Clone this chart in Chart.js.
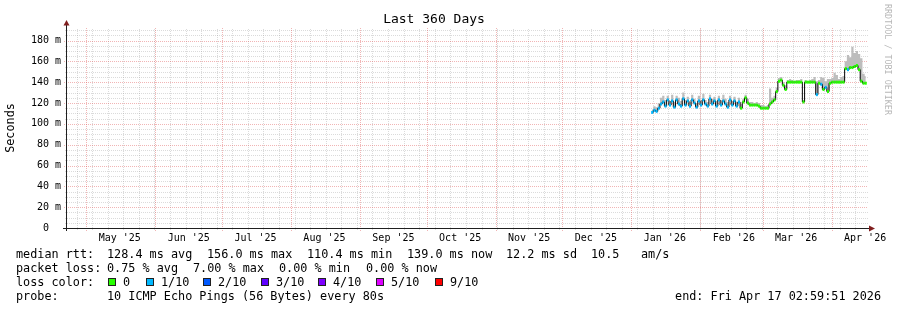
<!DOCTYPE html>
<html>
<head>
<meta charset="utf-8">
<title>Last 360 Days</title>
<script src="https://cdn.jsdelivr.net/npm/chart.js@4.4.1/dist/chart.umd.min.js"></script>
<style>
  html, body { margin: 0; padding: 0; background: #fff; }
  #wrap { position: relative; width: 897px; height: 310px; overflow: hidden;
          font-family: "DejaVu Sans Mono", monospace; color: #000; }
  #chart { position: absolute; left: 0; top: 0; }
  .t { position: absolute; font-size: 11.8px; line-height: 14px; white-space: pre; }
  .box { position: absolute; top: 278px; width: 6px; height: 6px; border: 1px solid #202020; }
  #mark { position: absolute; left: 883px; top: 4px; writing-mode: vertical-rl;
          font-size: 8.4px; line-height: 9px; color: rgba(0,0,0,0.3); white-space: pre; }
</style>
</head>
<body>
<div id="wrap">
  <canvas id="chart" width="897" height="310"></canvas>

  <span class="t" style="left:16px;top:247px">median rtt:</span>
  <span class="t" style="left:107px;top:247px">128.4 ms avg</span>
  <span class="t" style="left:207px;top:247px">156.0 ms max</span>
  <span class="t" style="left:307px;top:247px">110.4 ms min</span>
  <span class="t" style="left:407px;top:247px">139.0 ms now</span>
  <span class="t" style="left:506px;top:247px">12.2 ms sd</span>
  <span class="t" style="left:591px;top:247px">10.5</span>
  <span class="t" style="left:641px;top:247px">am/s</span>

  <span class="t" style="left:16px;top:261px">packet loss:</span>
  <span class="t" style="left:107px;top:261px">0.75 % avg</span>
  <span class="t" style="left:193px;top:261px">7.00 % max</span>
  <span class="t" style="left:279px;top:261px">0.00 % min</span>
  <span class="t" style="left:366px;top:261px">0.00 % now</span>

  <span class="t" style="left:16px;top:275px">loss color:</span>
  <div id="losslegend"></div>

  <span class="t" style="left:16px;top:289px">probe:</span>
  <span class="t" style="left:107px;top:289px">10 ICMP Echo Pings (56 Bytes) every 80s</span>
  <span class="t" style="right:16px;top:289px">end: Fri Apr 17 02:59:51 2026</span>

  <div id="mark">RRDTOOL / TOBI OETIKER</div>
</div>
<script>
const MONO = '"DejaVu Sans Mono", monospace';

// x axis is "days since the start of the 360 day window" (Apr 22 '25)
const FIRST_DAY = 263;

const MEDIAN = [
  111, 113, 112, 115, 119, 121,
  117, 123, 118, 122, 116, 123, 119, 117, 124, 118, 122, 117, 123, 120, 116, 122, 118,
  123, 119, 117, 124, 119, 122, 117, 123, 118, 122, 119, 116, 123, 118, 122, 117, 121,
  115, 121, 125, 120, 118, 118, 118, 118, 117, 115, 115, 115, 115,
  119, 121, 123, 131, 141, 142, 137, 133,
  140, 140, 140, 140, 140, 140, 140, 121, 140, 140, 140, 140, 140,
  128, 139, 138, 133, 135, 131, 139,
  140, 140, 140, 140, 140, 140,
  153, 152, 154, 154, 155, 156, 152, 141, 139, 139
];

// loss per sample, out of 10 pings
const LOSS = [
  1, 1, 1, 1, 1, 1,
  1, 1, 1, 1, 1, 1, 1, 1, 1, 1, 1, 1, 1, 1, 1, 1, 1,
  1, 1, 1, 1, 1, 1, 1, 1, 1, 1, 1, 1, 1, 1, 1, 1, 1,
  0, 0, 0, 0, 0, 0, 0, 0, 0, 0, 0, 0, 0,
  0, 0, 0, 0, 0, 0, 0, 0,
  0, 0, 0, 0, 0, 0, 0, 0, 0, 0, 0, 0, 0,
  1, 0, 1, 0, 1, 0, 0,
  0, 0, 0, 0, 0, 0,
  0, 1, 0, 0, 0, 0, 0, 0, 0, 0
];

// top of the smoke (slowest pings)
const SMOKE_HI = [
  114, 117, 116, 120, 125, 127,
  123, 127, 122, 128, 121, 127, 125, 122, 130, 123, 126, 121, 128, 124, 120, 127, 123,
  129, 123, 121, 128, 124, 126, 122, 127, 123, 128, 124, 121, 127, 122, 126, 121, 125,
  119, 124, 128, 124, 121, 121, 120, 121, 120, 118, 118, 117, 118,
  134, 125, 127, 135, 144, 145, 140, 137,
  142, 143, 142, 141, 142, 142, 143, 123, 142, 141, 142, 143, 145,
  141, 142, 145, 144, 141, 143, 143,
  144, 149, 147, 143, 145, 146,
  160, 166, 164, 174, 168, 170, 167, 163, 148, 146
];

const MONTHS = [[2025, 4], [2025, 5], [2025, 6], [2025, 7], [2025, 8], [2025, 9], [2025, 10],
                [2025, 11], [2026, 0], [2026, 1], [2026, 2], [2026, 3]];
const MONTH_LABELS = ["May '25", "Jun '25", "Jul '25", "Aug '25", "Sep '25", "Oct '25",
                      "Nov '25", "Dec '25", "Jan '26", "Feb '26", "Mar '26", "Apr '26"];
const Y_TICKS = [0, 20, 40, 60, 80, 100, 120, 140, 160, 180];

const LOSS_COLOR = { 0: '#26ff00', 1: '#00b8ff', 2: '#0059ff', 3: '#5e00ff', 4: '#7e00ff', 5: '#dd00ff', 9: '#ff0000' };
const LEGEND_LEVELS = [0, 1, 2, 3, 4, 5, 9];
const LEGEND_TEXT = ['0', '1/10', '2/10', '3/10', '4/10', '5/10', '9/10'];
const LEGEND_X = [108, 146, 203, 261, 318, 376, 435];

const START = Date.UTC(2025, 3, 22);
const monthDays = MONTHS.map(([y, m]) => (Date.UTC(y, m, 1) - START) / 864e5 - 0.4);
const labelDays = monthDays.map(d => d + 15.1);
const WEEK0 = 4.3;

// loss colour legend
const ll = document.getElementById('losslegend');
ll.innerHTML = LEGEND_LEVELS.map((k, i) =>
  `<div class="box" style="left:${LEGEND_X[i]}px;background:${LOSS_COLOR[k]}"></div>` +
  `<span class="t" style="left:${LEGEND_X[i] + 15}px;top:275px">${LEGEND_TEXT[i]}</span>`).join('');

const days = MEDIAN.map((_, i) => FIRST_DAY + i);

// rrdtool style dotted grid + axes with arrows
const rrdGrid = {
  id: 'rrdGrid',
  beforeDatasetsDraw(chart) {
    const { ctx, chartArea: a, scales: { x, y } } = chart;
    ctx.save();
    ctx.lineWidth = 1;
    ctx.setLineDash([1, 1]);
    const hline = (v, col, ext) => {
      const py = Math.round(y.getPixelForValue(v)) + 0.5;
      ctx.strokeStyle = col;
      ctx.beginPath(); ctx.moveTo(a.left - ext, py); ctx.lineTo(a.right, py); ctx.stroke();
    };
    const vline = (v, col, ext) => {
      const px = Math.round(x.getPixelForValue(v)) + 0.5;
      ctx.strokeStyle = col;
      ctx.beginPath(); ctx.moveTo(px, a.bottom + ext); ctx.lineTo(px, a.top); ctx.stroke();
    };
    const minor = 'rgba(143,143,143,0.32)', major = 'rgba(222,79,79,0.42)';
    for (let v = 5; v < 192; v += 5) if (v % 20) hline(v, minor, 2);
    for (let d = WEEK0; d < 360; d += 7) vline(d, minor, 2);
    Y_TICKS.forEach(v => { if (v) hline(v, major, 3); });
    monthDays.forEach(d => vline(d, major, 3));
    ctx.restore();
  },
  afterDatasetsDraw(chart) {
    const { ctx, chartArea: a } = chart;
    ctx.save();
    ctx.setLineDash([]);
    ctx.lineWidth = 1;
    ctx.strokeStyle = '#1f1f1f';
    ctx.beginPath();
    ctx.moveTo(a.left - 4, a.bottom + 0.5); ctx.lineTo(a.right + 2, a.bottom + 0.5);
    ctx.moveTo(a.left - 0.5, a.bottom + 3); ctx.lineTo(a.left - 0.5, a.top - 4);
    ctx.stroke();
    ctx.fillStyle = '#801f1f';
    ctx.beginPath();
    ctx.moveTo(a.left - 0.5, a.top - 8); ctx.lineTo(a.left - 3.5, a.top - 2.5); ctx.lineTo(a.left + 2.5, a.top - 2.5);
    ctx.closePath(); ctx.fill();
    ctx.beginPath();
    ctx.moveTo(a.right + 7, a.bottom + 0.5); ctx.lineTo(a.right + 1, a.bottom - 2.5); ctx.lineTo(a.right + 1, a.bottom + 3.5);
    ctx.closePath(); ctx.fill();
    ctx.restore();
  }
};

new Chart(document.getElementById('chart'), {
  type: 'line',
  data: {
    datasets: [
      {
        label: 'median',
        data: days.map((d, i) => ({ x: d, y: MEDIAN[i] })),
        borderColor: '#000',
        borderWidth: 1,
        stepped: 'middle',
        pointStyle: 'line',
        pointRadius: 1.0,
        pointHoverRadius: 1.0,
        pointBorderWidth: 3,
        pointBorderColor: LOSS.map(l => LOSS_COLOR[l]),
        fill: false
      },
      {
        label: 'smoke',
        data: days.map((d, i) => ({ x: d, y: SMOKE_HI[i] })),
        borderWidth: 0,
        borderColor: 'rgba(0,0,0,0)',
        pointRadius: 0,
        stepped: 'middle',
        fill: { target: 0 },
        backgroundColor: '#bdbdbd'
      }
    ]
  },
  options: {
    responsive: false,
    animation: false,
    events: [],
    layout: { padding: { top: 0, right: 29, bottom: 0, left: 0 } },
    plugins: {
      legend: { display: false },
      tooltip: { enabled: false },
      title: {
        display: true,
        text: 'Last 360 Days',
        color: '#000',
        font: { family: MONO, size: 13, weight: 'normal' },
        padding: { top: 12, bottom: 0.4 }
      }
    },
    scales: {
      x: {
        type: 'linear',
        min: 0,
        max: 360,
        afterBuildTicks: s => { s.ticks = labelDays.map(v => ({ value: v })); },
        afterFit: s => { s.height = 82; },
        grid: { display: false, drawTicks: false },
        border: { display: false },
        ticks: {
          autoSkip: false, maxRotation: 0, padding: 4, color: '#000',
          font: { family: MONO, size: 10 },
          callback: (v, i) => MONTH_LABELS[i]
        }
      },
      y: {
        min: 0,
        max: 192,
        afterBuildTicks: s => { s.ticks = Y_TICKS.map(v => ({ value: v })); },
        afterFit: s => { s.width = 67; },
        grid: { display: false, drawTicks: false },
        border: { display: false },
        ticks: {
          padding: 6, color: '#000',
          font: { family: MONO, size: 10 },
          callback: v => v === 0 ? '0  ' : v + ' m'
        },
        title: {
          display: true, text: 'Seconds', color: '#000',
          font: { family: MONO, size: 11.8 },
          padding: { top: 4, bottom: 0 }
        }
      }
    }
  },
  plugins: [rrdGrid]
});
</script>
</body>
</html>
